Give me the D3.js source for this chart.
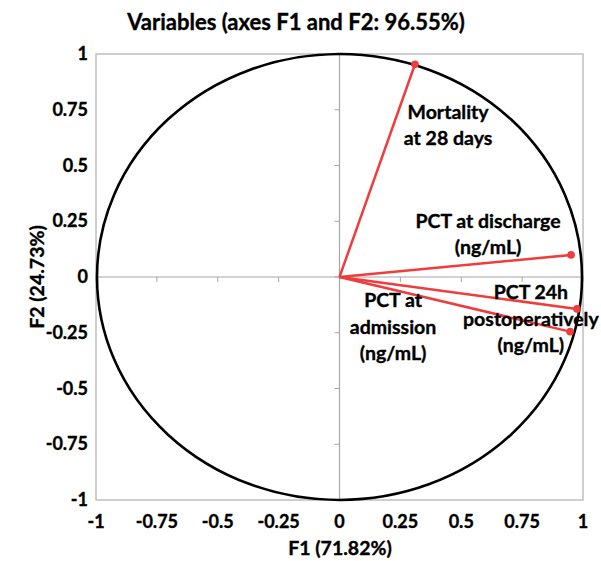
<!DOCTYPE html>
<html><head><meta charset="utf-8">
<script src="https://cdn.jsdelivr.net/npm/d3@7"></script>
<style>body{margin:0;background:#fff}svg{display:block;font-family:Lato,"Open Sans",sans-serif;font-weight:bold}text{stroke:#000;stroke-width:0.35px}</style>
</head><body><svg id="c" width="601" height="561"></svg>
<script>
const variables = ["PCT at admission (ng/mL)", "PCT 24h postoperatively (ng/mL)", "PCT at discharge (ng/mL)", "Mortality at 28 days"];
const f1 = [0.947, 0.975, 0.951, 0.31];
const f2 = [-0.245, -0.143, 0.099, 0.954];
const labelLines = [["PCT at","admission","(ng/mL)"],["PCT 24h","postoperatively","(ng/mL)"],["PCT at discharge","(ng/mL)"],["Mortality","at 28 days"]];
const labelAt = [[0.22,-0.135],[0.786,-0.099],[0.61,0.22],[0.446,0.709]];
const ticks = [-1,-0.75,-0.5,-0.25,0,0.25,0.5,0.75,1];
const tickLabels = ["-1","-0.75","-0.5","-0.25","0","0.25","0.5","0.75","1"];

const svg = d3.select("#c");
const x = d3.scaleLinear().domain([-1,1]).range([96,583]);
const y = d3.scaleLinear().domain([-1,1]).range([500,54]);

svg.append("text").attr("x",296).attr("y",30).attr("text-anchor","middle").attr("font-size",22).text("Variables (axes F1 and F2: 96.55%)");

// frame
svg.append("rect").attr("x",x(-1)).attr("y",y(1)).attr("width",x(1)-x(-1)).attr("height",y(-1)-y(1)).attr("fill","none").attr("stroke","#bfbfbf").attr("stroke-width",1.5);
// zero lines
svg.append("line").attr("x1",x(-1)).attr("x2",x(1)).attr("y1",y(0)).attr("y2",y(0)).attr("stroke","#a6a6a6").attr("stroke-width",1.2);
svg.append("line").attr("x1",x(0)).attr("x2",x(0)).attr("y1",y(1)).attr("y2",y(-1)).attr("stroke","#a6a6a6").attr("stroke-width",1.2);
// small tick marks on zero lines
svg.append("g").selectAll("line").data(ticks).join("line")
  .attr("x1",x(0)-5).attr("x2",x(0)).attr("y1",d=>y(d)).attr("y2",d=>y(d)).attr("stroke","#a6a6a6").attr("stroke-width",1);
svg.append("g").selectAll("line").data(ticks).join("line")
  .attr("x1",d=>x(d)).attr("x2",d=>x(d)).attr("y1",y(0)).attr("y2",y(0)+5).attr("stroke","#a6a6a6").attr("stroke-width",1);

// tick labels
svg.append("g").selectAll("text").data(ticks).join("text")
  .attr("x",88).attr("y",d=>y(d)+6).attr("text-anchor","end").attr("font-size",18).text((d,i)=>tickLabels[i]);
svg.append("g").selectAll("text").data(ticks).join("text")
  .attr("x",d=>x(d)).attr("y",528).attr("text-anchor","middle").attr("font-size",18).text((d,i)=>tickLabels[i]);

// axis titles
svg.append("text").attr("x",340).attr("y",555).attr("text-anchor","middle").attr("font-size",19.5).text("F1 (71.82%)");
svg.append("text").attr("transform","translate(44,277) rotate(-90)").attr("text-anchor","middle").attr("font-size",19.5).text("F2 (24.73%)");

// circle
svg.append("ellipse").attr("cx",x(0)).attr("cy",y(0)).attr("rx",x(1)-x(0)-1).attr("ry",y(-1)-y(0)).attr("fill","none").attr("stroke","#000").attr("stroke-width",2.6);

// vectors
const red = "#f03c3c";
svg.append("g").selectAll("line").data(variables).join("line")
  .attr("x1",x(0)).attr("y1",y(0)).attr("x2",(d,i)=>x(f1[i])).attr("y2",(d,i)=>y(f2[i]))
  .attr("stroke",red).attr("stroke-width",2.5);
svg.append("g").selectAll("circle").data(variables).join("circle")
  .attr("cx",(d,i)=>x(f1[i])).attr("cy",(d,i)=>y(f2[i])).attr("r",3.8).attr("fill",red);

// labels
variables.forEach((v,i)=>{
  const t = svg.append("text").attr("text-anchor","middle").attr("font-size",19.5);
  labelLines[i].forEach((ln,j)=>{
    t.append("tspan").attr("x",x(labelAt[i][0])).attr("y",y(labelAt[i][1])+j*26.5).text(ln);
  });
});
</script></body></html>
